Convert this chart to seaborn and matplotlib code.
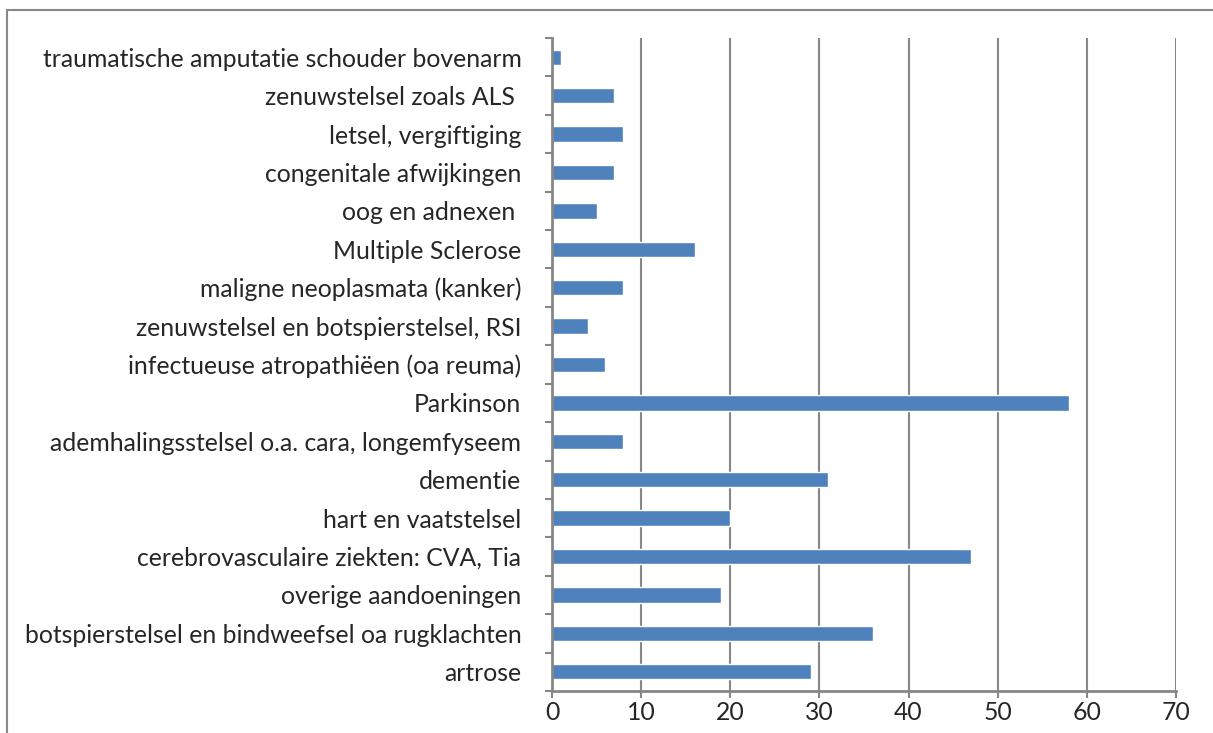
import numpy as np
import pandas as pd
import seaborn as sns
import matplotlib.pyplot as plt
from matplotlib.patches import Rectangle
from matplotlib.ticker import FixedLocator

# categories top to bottom, as in the chart
categories = [
    "traumatische amputatie schouder bovenarm",
    "zenuwstelsel zoals ALS ",
    "letsel, vergiftiging",
    "congenitale afwijkingen",
    "oog en adnexen ",
    "Multiple Sclerose",
    "maligne neoplasmata (kanker)",
    "zenuwstelsel en botspierstelsel, RSI",
    "infectueuse atropathiëen (oa reuma)",
    "Parkinson",
    "ademhalingsstelsel o.a. cara, longemfyseem",
    "dementie",
    "hart en vaatstelsel",
    "cerebrovasculaire ziekten: CVA, Tia",
    "overige aandoeningen",
    "botspierstelsel en bindweefsel oa rugklachten",
    "artrose",
]
counts = [1, 7, 8, 7, 5, 16, 8, 4, 6, 58, 8, 31, 20, 47, 19, 36, 29]
x_ticks = [0, 10, 20, 30, 40, 50, 60, 70]

df = pd.DataFrame({"cat": categories, "n": counts})

sns.set_style("white")
plt.rcParams['font.family'] = ['Lato', 'DejaVu Sans']

W, H = 1213, 733
fig = plt.figure(figsize=(W / 100, H / 100), dpi=100)
ax = fig.add_axes([552 / W, (H - 691) / H, (1176 - 552) / W, (691 - 38) / H])

sns.barplot(data=df, x="n", y="cat", color="#4F81BD", saturation=1,
            width=0.4, ax=ax, orient="h")

grey = "#868686"
ax.set_xlim(0, 70)
ax.set_ylim(len(categories) - 0.5, -0.5)
ax.set_xticks(x_ticks)
ax.set_xlabel("")
ax.set_ylabel("")
ax.xaxis.grid(True, color=grey, linewidth=1.5)
ax.set_axisbelow(True)

for side in ["top", "right"]:
    ax.spines[side].set_visible(False)
for side in ["left", "bottom"]:
    ax.spines[side].set_color(grey)
    ax.spines[side].set_linewidth(2)

ax.tick_params(axis="x", direction="out", length=5, width=1.5, color=grey,
               labelsize=17.8, pad=2, bottom=True)
ax.tick_params(axis="y", length=0, labelsize=17.8, pad=22)
# excel-style ticks between categories
ax.yaxis.set_minor_locator(FixedLocator(np.arange(-0.5, len(categories), 1.0)))
ax.tick_params(axis="y", which="minor", direction="out", length=5, width=1.5,
               color=grey, left=True)

# outer chart border
fig.add_artist(Rectangle((7 / W, -0.1), 1.2, (H - 10) / H + 0.1,
                         transform=fig.transFigure, fill=False,
                         edgecolor="#898989", linewidth=1.5))

fig.savefig("out.png", dpi=100)
